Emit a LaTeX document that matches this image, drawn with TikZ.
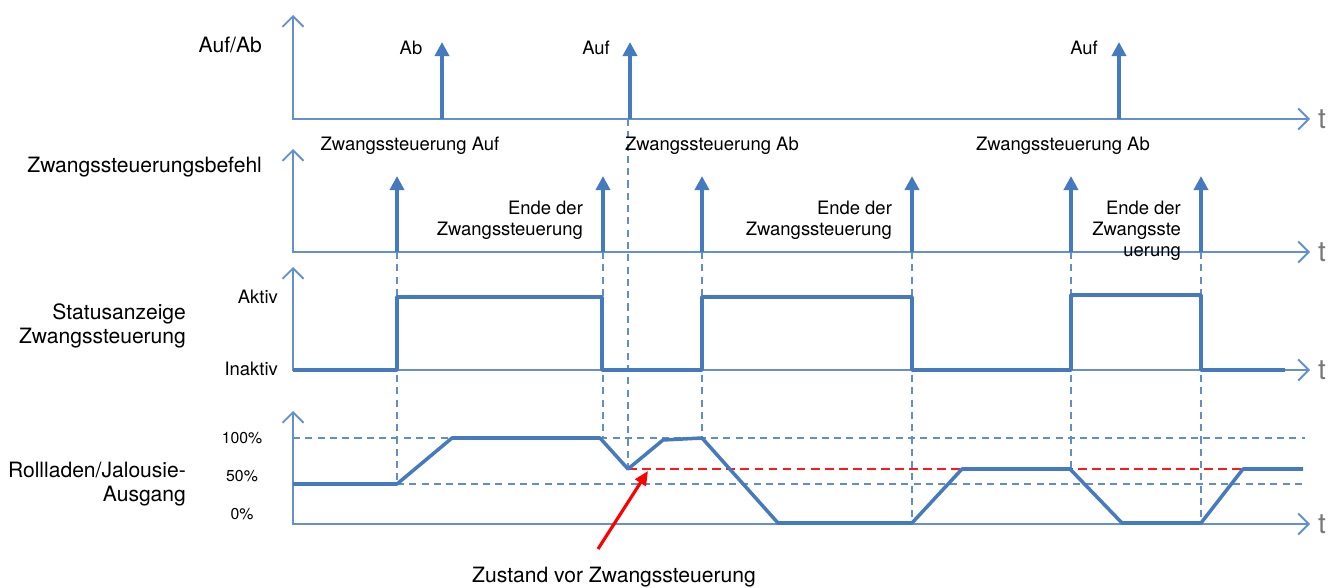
\documentclass[tikz,border=0pt]{standalone}
\usepackage{fontspec}
\setmainfont{TeX Gyre Heros}
\usetikzlibrary{arrows.meta}

\definecolor{signalblau}{RGB}{70,122,190}
\definecolor{achsblau}{RGB}{98,144,208}
\definecolor{zeitgrau}{RGB}{120,120,120}

\begin{document}
\begin{tikzpicture}[
  x=0.02cm, y=-0.02cm,
  every node/.style={inner sep=1pt},
  achse/.style={draw=achsblau, line width=1.1pt,
    {Straight Barb[length=6pt,width=12pt]}-{Straight Barb[length=6pt,width=12pt]}},
  impuls/.style={draw=signalblau, line width=2.3pt, -{Triangle[length=8pt,width=8pt]}},
  verlauf/.style={draw=signalblau, line width=2pt, line join=round},
  hilfslinie/.style={draw=signalblau!85, line width=0.9pt, dash pattern=on 4pt off 3pt},
  zustandlinie/.style={draw=red!90, line width=1.3pt, dash pattern=on 5pt off 3pt},
  gross/.style={font=\fontsize{12}{14}\selectfont},
  mittel/.style={font=\fontsize{10.5}{12}\selectfont},
  klein/.style={font=\fontsize{9}{10}\selectfont},
  zeit/.style={font=\fontsize{16}{16}\selectfont, text=zeitgrau, anchor=west}
]

\useasboundingbox (0,0) rectangle (1336,588);

% Parameter (in Pixeln der Vorlage)
\def\xO{293}      % Lage der senkrechten Achsen
\def\xEnde{1310}  % Ende der Zeitachsen
\def\yA{119}      % Grundlinie Auf/Ab
\def\yB{252}      % Grundlinie Zwangssteuerungsbefehl
\def\yC{370}      % Grundlinie Statusanzeige
\def\yD{524}      % Grundlinie Ausgang

% ==========================================================
% Hilfslinien (gestrichelt)
% ==========================================================
\draw[hilfslinie] (\xO,438) -- (1305,438);
\draw[hilfslinie] (397,484) -- (1305,484);
\foreach \x/\von/\bis in {397/\yB/484, 603/\yB/438, 628/\yA/469, 702/\yB/438,
                          912/\yB/523, 1071/\yB/469, 1201/\yB/523}{
  \draw[hilfslinie] (\x,\von) -- (\x,\bis);
}
\draw[zustandlinie] (628,469) -- (1243,469);

% ==========================================================
% Achsen
% ==========================================================
\foreach \oben/\unten/\name in {15/\yA/A, 149/\yB/B, 267/\yC/C, 411/\yD/D}{
  \draw[achse] (\xO,\oben) -- (\xO,\unten) -- (\xEnde,\unten);
  \node[zeit] (t\name) at (1316,\unten) {t};
}

% ==========================================================
% Auf/Ab
% ==========================================================
\node[gross, anchor=east] (aufab) at (264,45) {Auf/Ab};
\foreach \x in {442, 630, 1119}{
  \draw[impuls] (\x,\yA) -- (\x,42);
}
\node[mittel] (ab)   at (411,48)  {Ab};
\node[mittel] (auf)  at (596,48)  {Auf};
\node[mittel] (auf2) at (1084,48) {Auf};

% ==========================================================
% Zwangssteuerungsbefehl
% ==========================================================
\node[gross, anchor=east] (befehl) at (264,167) {Zwangssteuerungsbefehl};
\foreach \x in {397, 603, 702, 912, 1071, 1201}{
  \draw[impuls] (\x,\yB) -- (\x,176);
}
\node[mittel] (zsauf) at (410,146)  {Zwangssteuerung Auf};
\node[mittel] (zsab)  at (712,146)  {Zwangssteuerung Ab};
\node[mittel] (zsab2) at (1063,146) {Zwangssteuerung Ab};

\node[mittel, anchor=east, align=right] (ende1) at (585,220)
  {Ende der\\Zwangssteuerung};
\node[mittel, anchor=east, align=right] (ende2) at (894,220)
  {Ende der\\Zwangssteuerung};
\node[mittel, anchor=east, align=right] (ende3) at (1183,231)
  {Ende der\\Zwangsste\\uerung};

% ==========================================================
% Statusanzeige Zwangssteuerung
% ==========================================================
\node[gross, anchor=east, align=right] (status) at (188,326)
  {Statusanzeige\\Zwangssteuerung};
\node[mittel, anchor=east] (aktiv)   at (280,297) {Aktiv};
\node[mittel, anchor=east] (inaktiv) at (280,369) {Inaktiv};

\draw[verlauf] (\xO,\yC) -- (397,\yC) -- (397,297) -- (602,297) -- (602,\yC)
  -- (702,\yC) -- (702,297) -- (912,297) -- (912,\yC) -- (1071,\yC)
  -- (1071,295) -- (1201,295) -- (1201,\yC) -- (1285,\yC);

% ==========================================================
% Rollladen/Jalousie-Ausgang
% ==========================================================
\node[gross, anchor=east, align=right] (ausgang) at (188,484)
  {Rollladen/Jalousie-\\Ausgang};
\node[klein] (p100) at (242,438) {100\%};
\node[klein] (p50)  at (242,476) {50\%};
\node[klein] (p0)   at (242,514) {0\%};

\draw[verlauf] (\xO,484) -- (397,484) -- (452,438) -- (600,438) -- (628,469)
  -- (663,440) -- (702,438) -- (778,523) -- (912,523) -- (962,469)
  -- (1070,469) -- (1122,523) -- (1201,523) -- (1243,469) -- (1303,469);

% ==========================================================
% Zustand vor Zwangssteuerung
% ==========================================================
\node[gross] (zustand) at (614,577) {Zustand vor Zwangssteuerung};
\coordinate (pfeilfuss) at (598,549);
\coordinate (merker) at (648,471);
\draw[red, line width=1.8pt, -{Triangle[length=8pt,width=7pt]}] (pfeilfuss) -- (merker);

\end{tikzpicture}
\end{document}
